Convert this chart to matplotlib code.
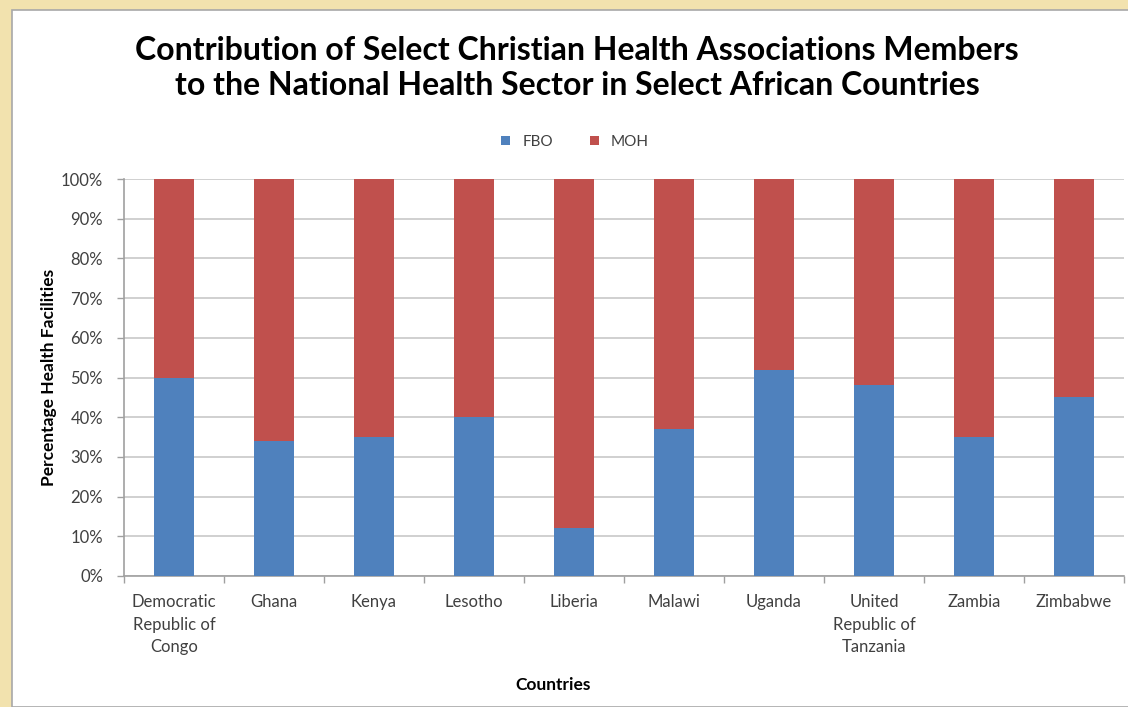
import matplotlib
matplotlib.use("Agg")
import matplotlib.pyplot as plt
from matplotlib.patches import Rectangle
import numpy as np

countries = ["Democratic\nRepublic of\nCongo", "Ghana", "Kenya", "Lesotho", "Liberia",
             "Malawi", "Uganda", "United\nRepublic of\nTanzania", "Zambia", "Zimbabwe"]
fbo = [50, 34, 35, 40, 12, 37, 52, 48, 35, 45]
moh = [100 - v for v in fbo]
yticks = [0, 10, 20, 30, 40, 50, 60, 70, 80, 90, 100]

blue = "#4F81BD"
red = "#C0504D"
txt = "#404040"

plt.rcParams['font.family'] = ['Lato', 'DejaVu Sans']

W, H = 1128, 707
fig = plt.figure(figsize=(W / 100, H / 100), dpi=100)
fig.patch.set_facecolor("#F2E2AE")
# white chart panel behind everything
fig.patches.append(Rectangle((12 / W, 0), 1, 1 - 10 / H, transform=fig.transFigure,
                             facecolor="white", edgecolor="#A8A8A8", lw=1.2, zorder=-10))

ax = fig.add_axes([124 / W, 131 / H, 1000 / W, 397 / H])
ax.set_facecolor("white")
x = np.arange(len(countries))
ax.bar(x, fbo, width=0.4, color=blue, label="FBO", zorder=3)
ax.bar(x, moh, width=0.4, bottom=fbo, color=red, label="MOH", zorder=3)

ax.set_xlim(-0.5, len(countries) - 0.5)
ax.set_ylim(0, 100)
ax.set_yticks(yticks)
ax.set_yticklabels([f"{v}%" for v in yticks], fontsize=12, color=txt)
ax.yaxis.grid(True, color="#C8C8C8", lw=1.2, zorder=0)

# category boundaries as major ticks, labels on minor ticks
ax.set_xticks(np.arange(-0.5, len(countries), 1.0))
ax.set_xticklabels([])
ax.set_xticks(x, minor=True)
ax.set_xticklabels(countries, minor=True, fontsize=12, color=txt, linespacing=1.5, va="top")
ax.tick_params(axis="x", which="major", length=5, color="#A0A0A0", width=1)
ax.tick_params(axis="x", which="minor", length=0, pad=13)
ax.tick_params(axis="y", length=5, color="#A0A0A0", width=1, pad=10)

for s in ["top", "right"]:
    ax.spines[s].set_visible(False)
for s in ["left", "bottom"]:
    ax.spines[s].set_color("#A0A0A0")
    ax.spines[s].set_linewidth(1.2)

ax.set_ylabel("Percentage Health Facilities", fontsize=12.5, fontweight="bold", color="black", labelpad=3)
ax.set_xlabel("Countries", fontsize=12.5, fontweight="bold", color="black")
ax.xaxis.set_label_coords(0.429, -0.255)

fig.text(577 / W, 1 - 68 / H,
         "Contribution of Select Christian Health Associations Members\nto the National Health Sector in Select African Countries",
         ha="center", va="center", fontsize=23, fontweight="bold", linespacing=1.25)

ax.legend(loc="center", bbox_to_anchor=(575 / W, 1 - 142 / H), bbox_transform=fig.transFigure,
          ncol=2, frameon=False, fontsize=11, handlelength=0.6, handleheight=0.6,
          columnspacing=2.4, handletextpad=0.8, labelcolor=txt)

fig.savefig("out.png", dpi=100, facecolor=fig.get_facecolor())
